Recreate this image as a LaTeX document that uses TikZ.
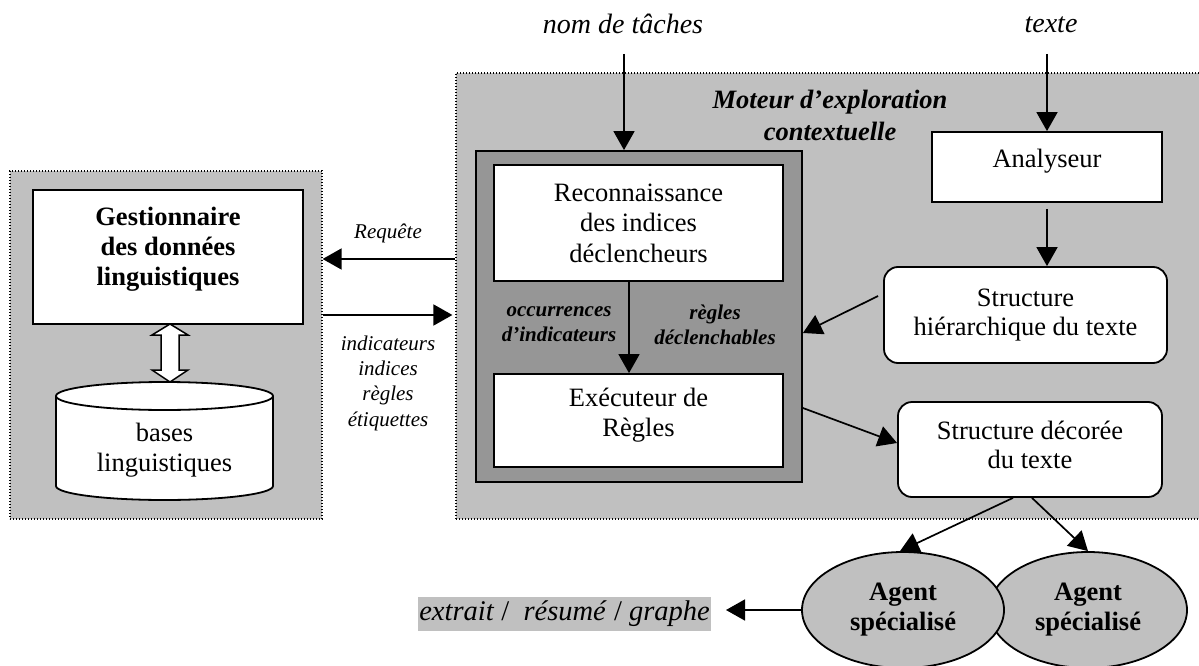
\documentclass[tikz,border=0pt]{standalone}
\usepackage{fontspec}
\setmainfont{Liberation Serif}
\usetikzlibrary{arrows.meta,shapes.geometric}
\definecolor{lgray}{RGB}{192,192,192}
\definecolor{dgray}{RGB}{150,150,150}
\begin{document}
\begin{tikzpicture}[x=1pt,y=-1pt,
  every node/.style={inner sep=0pt},
  dotbox/.style={rectangle, fill=lgray, draw=black, line width=1.2pt, dash pattern=on 1.2pt off 1.8pt},
  box/.style={rectangle, draw, line width=1.8pt, fill=white},
  rbox/.style={box, rounded corners=14pt},
  arr/.style={line width=1.7pt, -{Triangle[length=19pt,width=21pt]}},
  txt/.style={font=\fontsize{26.5}{30.5}\selectfont, align=center},
  btxt/.style={font=\fontsize{26.5}{30}\selectfont\bfseries, align=center},
  lbl/.style={font=\fontsize{21}{25.3}\selectfont\itshape, align=center},
  blbl/.style={font=\fontsize{21}{25}\selectfont\bfseries\itshape, align=center},
  toplbl/.style={font=\fontsize{28}{32}\selectfont\itshape},
  agent/.style={ellipse, draw, line width=1.8pt, fill=lgray, font=\fontsize{26.5}{30}\selectfont\bfseries, align=center}]

\useasboundingbox (0,0) rectangle (1199,666);

% containers
\node[dotbox, minimum width=312pt, minimum height=348pt] (left) at (166,345) {};
\node[dotbox, minimum width=759pt, minimum height=446pt] (right) at (835.5,296) {};
\node[rectangle, draw, line width=1.8pt, fill=dgray, minimum width=326pt, minimum height=331pt] (inner) at (639,316.5) {};

% left part
\node[box, minimum width=270pt, minimum height=134pt] (gest) at (168,257) {};
\node[btxt] (gesttxt) at (168,249) {Gestionnaire\\des données\\linguistiques};

\coordinate (cyl) at (164.5,396);
\draw[line width=1.8pt, fill=white] (56,396) -- (56,486)
  arc[start angle=180, end angle=0, x radius=108.5, y radius=14] -- (273,396);
\draw[line width=1.8pt, fill=white] (cyl) ellipse[x radius=108.5, y radius=14];
\node[txt, font=\fontsize{26.5}{30}\selectfont] (bases) at (164.5,450) {bases\\linguistiques};

\draw[line width=1.5pt, fill=white] (170,324) -- (188,335) -- (179,335) -- (179,370) -- (188,370)
  -- (170,382) -- (152,370) -- (161,370) -- (161,335) -- (152,335) -- cycle;

% inner boxes
\node[box, txt, minimum width=289pt, minimum height=116pt] (reco) at (638.5,223)
  {Reconnaissance\\des indices\\déclencheurs};
\node[box, minimum width=289pt, minimum height=93pt] (exec) at (638.5,420.5) {};
\node[txt, font=\fontsize{26.5}{30}\selectfont] (exectxt) at (638.5,415) {Exécuteur de\\Règles};

\node[blbl] (occ) at (559,324.5) {occurrences\\d’indicateurs};
\node[blbl] (regl) at (715,324.5) {règles\\déclenchables};

% right part
\node[font=\fontsize{26.5}{32}\selectfont\bfseries\itshape, align=center] (moteur) at (830,115)
  {Moteur d’exploration\\contextuelle};
\node[box, minimum width=230pt, minimum height=70pt] (ana) at (1047,167) {};
\node[txt] (anatxt) at (1047,161) {Analyseur};
\node[rbox, txt, font=\fontsize{26.5}{29}\selectfont, minimum width=283pt, minimum height=96pt] (shier) at (1025.5,315)
  {Structure\\hiérarchique du texte};
\node[rbox, minimum width=264pt, minimum height=95pt] (sdeco) at (1030,449.5) {};
\node[txt, font=\fontsize{26.5}{29}\selectfont] (sdecotxt) at (1030,445) {Structure décorée\\du texte};

% top labels
\node[toplbl] (nom) at (623,24) {nom de tâches};
\node[toplbl] (texte) at (1051,25) {texte};

% agents
\node[agent, minimum width=198pt, minimum height=116pt] (ag2) at (1088,610) {Agent\\spécialisé};
\node[agent, minimum width=202pt, minimum height=116pt] (ag1) at (903,610) {Agent\\spécialisé};

\node[fill=lgray, font=\fontsize{28.5}{32}\selectfont\itshape, minimum height=34pt, inner xsep=1pt, anchor=east] (ext) at (711,614)
  {extrait \textup{/}\ \ résumé \textup{/} graphe};

% side labels
\node[lbl] (req) at (388,233) {Requête};
\node[lbl] (ind) at (388,383) {indicateurs\\indices\\règles\\étiquettes};

% connectors
\draw[arr] ([xshift=1pt,yshift=-30pt]nom.center) -- ([xshift=-15pt]inner.north);
\draw[arr] (ana.north |- 0,54) -- (ana.north);
\draw[arr] ([yshift=-6pt]ana.south) -- (ana.south |- shier.north);
\draw[arr] ([xshift=-5pt,yshift=19pt]shier.west) -- ([yshift=-16.5pt]inner.east);
\draw[arr] ([yshift=-91.5pt]inner.east) -- ([yshift=6.5pt]sdeco.west);
\draw[arr] ([xshift=-9.5pt]reco.south) -- ([xshift=-9.5pt]exec.north);
\draw[arr] (right.west |- 0,259) -- (left.east |- 0,259);
\draw[arr] (left.east |- 0,315) -- ([xshift=-3pt]right.west |- 0,315);
\draw[arr] ([xshift=-17pt]sdeco.south) -- ([xshift=-3pt]ag1.north);
\draw[arr] ([xshift=2pt]sdeco.south) -- (ag2.north);
\draw[arr] (ag1.west) -- ([xshift=15pt]ext.east |- ag1.west);
\end{tikzpicture}
\end{document}
